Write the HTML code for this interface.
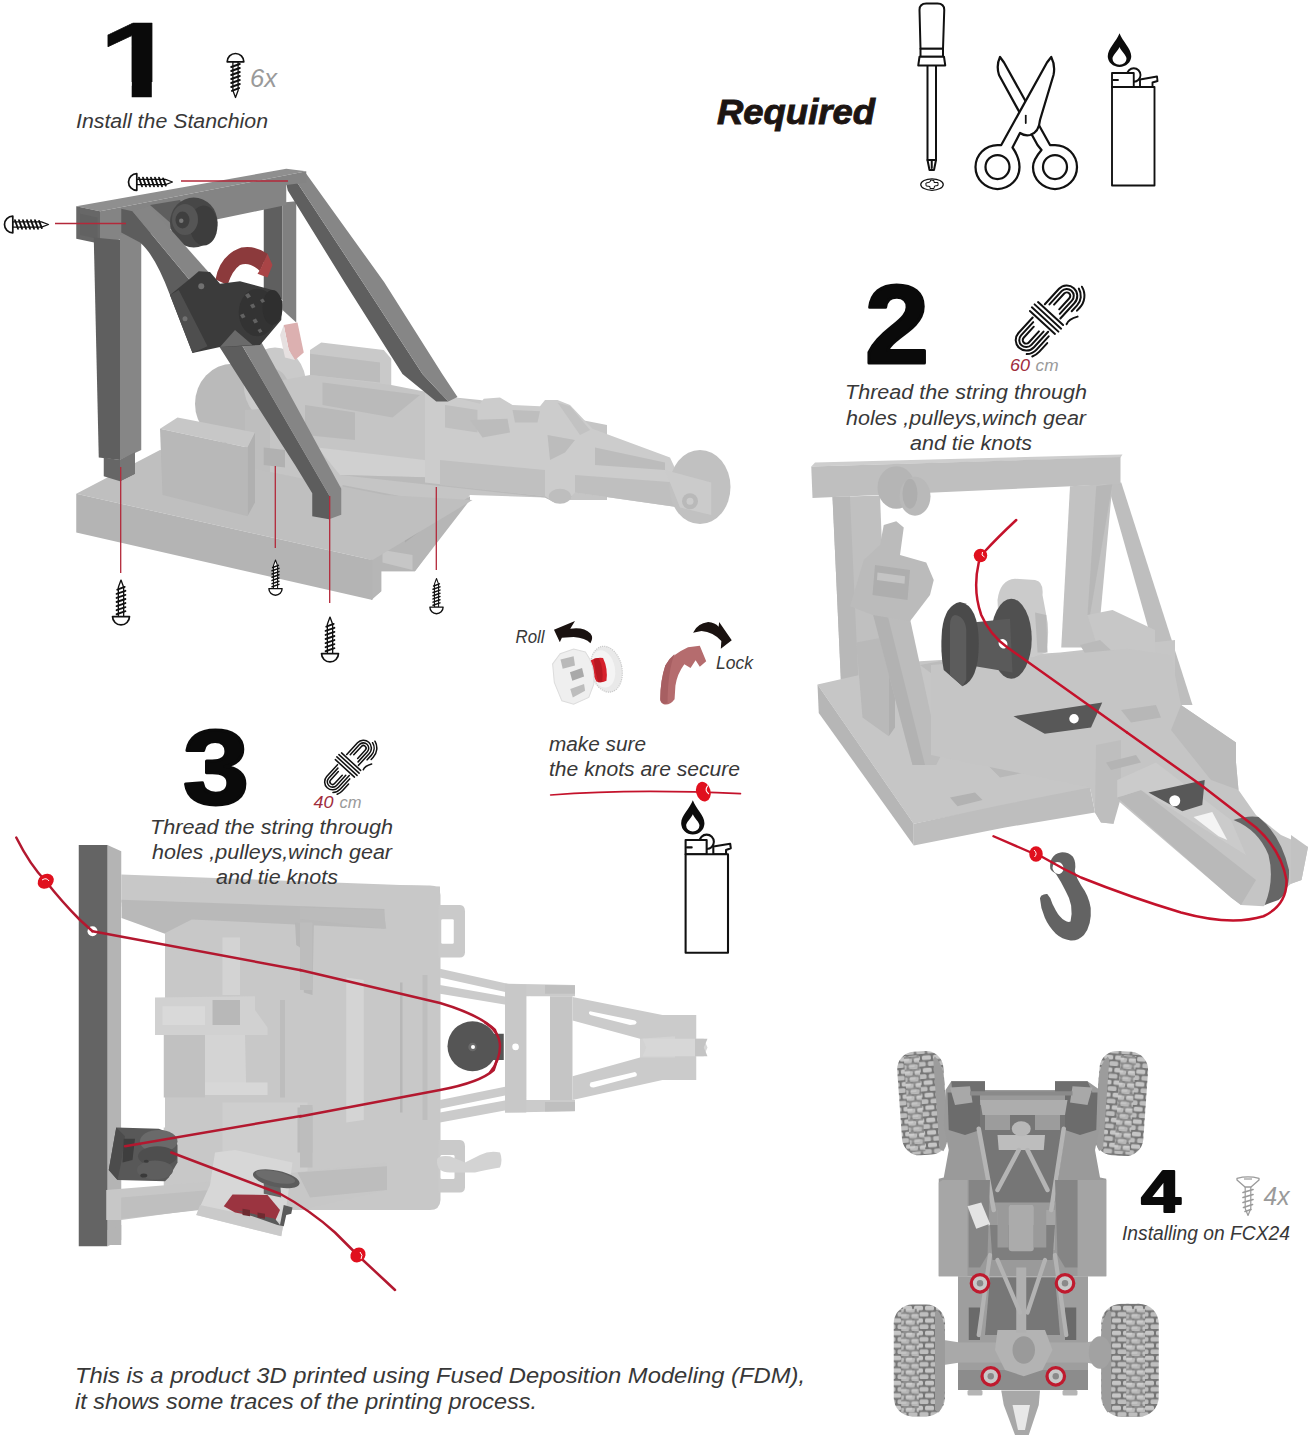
<!DOCTYPE html>
<html lang="en">
<head>
<meta charset="utf-8">
<title>Assembly instructions</title>
<style>
html,body{margin:0;padding:0;background:#fff;}
body{width:1308px;height:1443px;overflow:hidden;font-family:"Liberation Sans",sans-serif;}
svg{display:block;}
.it{font-family:"Liberation Sans",sans-serif;font-style:italic;fill:#383838;}
.num{font-family:"Liberation Sans",sans-serif;font-weight:bold;fill:#0a0a0a;stroke:#0a0a0a;stroke-linejoin:round;}
.gr{font-family:"Liberation Sans",sans-serif;font-style:italic;fill:#9a9a9a;}
.ic{fill:#fff;stroke:#111;stroke-linejoin:round;stroke-linecap:round;}
.rl{stroke:#b3283a;stroke-width:1.3;fill:none;}
.st{stroke:#c4122b;fill:none;stroke-linecap:round;stroke-linejoin:round;}
.st3{stroke:#b3182f;}
</style>
</head>
<body>
<svg width="1308" height="1443" viewBox="0 0 1308 1443">
<rect width="1308" height="1443" fill="#ffffff"/>
<defs>
  <!-- pan head screw, head on top, tip at bottom; 17 wide, 45 long -->
  <g id="screw">
    <path d="M-2.6 9 L-2.6 38 L0 45 L2.6 38 L2.6 9 Z" fill="#fff" stroke="#111" stroke-width="1.3" stroke-linejoin="round"/>
    <path d="M-4.3 14.5 L4.3 11.5 M-4.3 18.5 L4.3 15.5 M-4.3 22.5 L4.3 19.5 M-4.3 26.5 L4.3 23.5 M-4.3 30.5 L4.3 27.5 M-4.3 34.5 L4.3 31.5 M-3.6 38.3 L3.6 35.6" stroke="#111" stroke-width="1.9" stroke-linecap="round" fill="none"/>
    <path d="M-8.3 9.3 A8.3 8.3 0 0 1 8.3 9.3 Z" fill="#fff" stroke="#111" stroke-width="1.7" stroke-linejoin="round"/>
  </g>
  <!-- flat head screw (gray) -->
  <g id="fscrew">
    <path d="M-2.8 9 L-2.8 31 L0 38 L2.8 31 L2.8 9 Z" fill="#fff" stroke="#9a9a9a" stroke-width="1.2" stroke-linejoin="round"/>
    <path d="M-5 15 L5 12 M-5 20 L5 17 M-5 25 L5 22 M-4.5 30 L4.5 27 M-3 34 L3 32" stroke="#9a9a9a" stroke-width="1.7" stroke-linecap="round" fill="none"/>
    <path d="M-11 0.8 Q0 -2 11 0.8 L11 2.5 L3 9.5 L-3 9.5 L-11 2.5 Z" fill="#fff" stroke="#9a9a9a" stroke-width="1.3" stroke-linejoin="round"/>
    <path d="M-4 1.5 L4 1.5" stroke="#9a9a9a" stroke-width="1.2"/>
  </g>
  <!-- rope coil; long axis along x, total length ~88, width ~26 -->
  <g id="rope" fill="none" stroke="#111" stroke-width="2" stroke-linecap="round">
    <path d="M9 -10.5 L30 -10.5 A10.5 10.5 0 0 1 30 10.5 L9 10.5"/>
    <path d="M12 -7 L30 -7 A7 7 0 0 1 30 7 L12 7"/>
    <path d="M15 -3.5 L30 -3.5 A3.5 3.5 0 0 1 30 3.5 L15 3.5"/>
    <path d="M-9 -10.5 L-30 -10.5 A10.5 10.5 0 0 0 -30 10.5 L-9 10.5"/>
    <path d="M-12 -7 L-30 -7 A7 7 0 0 0 -30 7 L-12 7"/>
    <path d="M-15 -3.5 L-30 -3.5 A3.5 3.5 0 0 0 -30 3.5 L-15 3.5"/>
    <path d="M-6 -17 L-6 17 M-2 -18 L-2 18 M2 -18 L2 18 M6 -17 L6 17"/>
    <path d="M22 14 L30 14 A14 14 0 0 0 43.5 4 M26 17.5 L30 17.5 A17.5 17.5 0 0 0 47 5 M-12 14 L-30 14 A14 14 0 0 1 -40 9.8 M-18 17.5 L-30 17.5 A17.5 17.5 0 0 1 -38 15.5 M9 19 Q14 17 22 22"/>
  </g>
</defs>
<!-- ===== TOOL ICONS (top right) ===== -->
<g id="tools" transform="translate(890,0) scale(.25)">
  <!-- screwdriver -->
  <g class="ic" stroke-width="8">
    <rect x="150" y="255" width="34" height="385"/>
    <path d="M150 640 L158 680 L176 680 L184 640 Z"/>
    <path d="M167 640 L167 672" />
    <path d="M118 40 Q118 14 145 14 L190 14 Q217 14 217 40 L212 195 L122 195 Z"/>
    <rect x="122" y="195" width="90" height="32"/>
    <path d="M118 227 L216 227 L221 262 L113 262 Z"/>
    <ellipse cx="168" cy="738" rx="45" ry="23" stroke-width="5"/>
    <path d="M145 732 L160 728 L163 720 L176 722 L176 730 L192 730 L192 742 L178 744 L176 754 L160 754 L160 746 L146 744 Z" stroke-width="4"/>
  </g>
  <!-- scissors -->
  <g class="ic" stroke-width="9">
    <!-- back blade: tip top-left, ring bottom-right -->
    <path d="M440 228 Q424 262 436 300 L590 580 L606 600 Q572 640 572 668 A88 88 0 1 0 660 580 L640 580 L456 250 Z"/>
    <circle cx="660" cy="668" r="48"/>
    <!-- front blade: tip top-right, ring bottom-left -->
    <path d="M645 228 Q662 262 654 300 L600 480 Q596 530 560 540 Q540 545 520 532 L490 590 Q518 630 518 668 A88 88 0 1 1 430 580 L445 580 L628 250 Z"/>
    <circle cx="430" cy="668" r="48"/>
    <path d="M543 462 L543 492" stroke-width="7"/>
  </g>
  <!-- lighter -->
  <g class="ic" stroke-width="7.5">
    <circle cx="975" cy="300" r="27"/>
    <path d="M1000 318 L1068 306 L1070 324 L1050 330 L1050 348 L1000 348 Z"/>
    <path d="M888 292 L975 292 L975 348 L888 348 Z"/>
    <path d="M893 320 L912 320"/>
    <rect x="888" y="348" width="170" height="394"/>
  </g>
  <path d="M918 133 C930 165 965 195 965 225 A47 43 0 0 1 871 225 C871 195 906 165 918 133 Z" fill="#0c0c0c"/>
  <path d="M918 188 C924 205 946 220 946 235 A28 24 0 0 1 890 235 C890 220 912 205 918 188 Z" fill="#fff"/>
</g>

<!-- second lighter (center) -->
<g id="lighter2" transform="translate(480,580) scale(.2771)">
  <g class="ic" stroke-width="7.5">
    <circle cx="818" cy="945" r="26"/>
    <path d="M842 962 L903 952 L905 968 L888 974 L888 990 L842 990 Z"/>
    <path d="M742 938 L818 938 L818 990 L742 990 Z"/>
    <path d="M747 965 L764 965"/>
    <rect x="742" y="990" width="153" height="355"/>
  </g>
  <path d="M768 795 C779 825 810 850 810 878 A42 40 0 0 1 726 878 C726 850 757 825 768 795 Z" fill="#0c0c0c"/>
  <path d="M768 845 C774 860 792 873 792 886 A24 22 0 0 1 744 886 C744 873 762 860 768 845 Z" fill="#fff"/>
</g>
<!-- ===== STEP 1 illustration ===== -->
<g id="step1">
 <!-- light grey machine -->
 <g transform="translate(60,160) scale(.25)">
  <!-- gear + ring behind strut -->
  <ellipse cx="690" cy="975" rx="150" ry="160" fill="#bababa"/>
  <ellipse cx="860" cy="900" rx="125" ry="150" fill="#cacaca"/>
  <ellipse cx="850" cy="930" rx="70" ry="95" fill="#bebebe"/>
  <polygon points="740,1000 1010,980 1010,1320 740,1300" fill="#bebebe"/>
  <!-- pink lever -->
  <polygon points="895,660 950,650 975,770 940,800 915,760" fill="#dcb0b0"/>
  <polygon points="895,660 915,760 940,800 900,790 880,700" fill="#e6e0e0"/>
 </g>
 <g transform="translate(280,300) scale(.25)">
  <!-- back block -->
  <polygon points="120,200 165,170 415,200 445,235 445,420 120,380" fill="#c9c9c9"/>
  <polygon points="120,215 400,250 400,330 120,300" fill="#bcbcbc"/>
  <!-- big body between block and base -->
  <polygon points="-40,330 120,300 445,340 700,390 800,400 1308,500 1308,800 1160,800 1100,810 1060,790 760,780 540,1085 405,1085 405,1165 365,1200 365,1040 -40,900" fill="#c5c5c5"/>
  <polygon points="100,420 300,450 300,560 100,540" fill="#b9b9b9"/>
  <polygon points="170,330 560,380 450,470 170,420" fill="#bababa"/>
  <polygon points="150,590 1010,690 1010,720 240,700" fill="#d0d0d0"/>
  <polygon points="240,700 1060,790 1100,810 1160,800 1180,745 1010,720" fill="#bababa"/>
  <polygon points="250,740 510,790 510,850 250,800" fill="#b8b8b8"/>
  <!-- base right face -->
  <polygon points="365,1040 760,785 760,800 540,1085 405,1085 405,1165 365,1200" fill="#b6b6b6"/>
  <polygon points="410,1000 530,1020 530,1080 410,1050" fill="#c6c6c6"/>
  <polygon points="490,915 560,925 500,970" fill="#aaaaaa"/>
 </g>
 <g transform="translate(60,420) scale(.25)">
  <!-- base plate -->
  <polygon points="65,295 400,120 1300,300 1650,320 1250,560" fill="#bfbfbf"/>
  <polygon points="65,295 1250,560 1250,720 65,450" fill="#b4b4b4"/>
  <!-- box -->
  <polygon points="400,35 470,-10 780,50 750,110" fill="#c7c7c7"/>
  <polygon points="750,110 780,50 780,330 750,385" fill="#b0b0b0"/>
  <polygon points="400,35 750,110 750,385 410,300" fill="#b8b8b8"/>
  <!-- small block under strut -->
  <polygon points="815,110 900,120 900,190 815,180" fill="#b1b1b1"/>
 </g>
 <g transform="translate(440,360) scale(.25)">
  <!-- arm -->
  <polygon points="-60,120 160,175 175,155 240,150 290,180 400,185 420,160 470,160 520,180 610,275 650,290 920,390 1000,560 960,590 540,530 510,560 460,570 420,545 -60,490" fill="#cccccc"/>
  <polygon points="20,180 150,200 150,290 20,270" fill="#bfbfbf"/>
  <polygon points="120,240 270,235 280,290 170,310" fill="#bcbcbc"/>
  <polygon points="290,200 400,205 390,250 300,250" fill="#bebebe"/>
  <polygon points="430,300 540,320 500,370 440,400" fill="#bcbcbc"/>
  <polygon points="620,350 900,410 900,440 620,420" fill="#bcbcbc"/>
  <polygon points="0,400 420,440 420,545 0,500" fill="#c0c0c0"/>
  <polygon points="540,460 1080,500 1080,620 960,590 540,530" fill="#bfbfbf"/>
  <polygon points="470,170 520,185 600,280 560,300" fill="#c2c2c2"/>
  <ellipse cx="480" cy="545" rx="45" ry="30" fill="#bebebe"/>
  <!-- wheel -->
  <ellipse cx="1040" cy="508" rx="122" ry="148" fill="#c1c1c1"/>
  <polygon points="900,440 1085,490 1085,620 960,590" fill="#cbcbcb"/>
  <circle cx="1000" cy="565" r="32" fill="#b9b9b9"/>
  <circle cx="1000" cy="565" r="14" fill="#cbcbcb"/>
 </g>

 <!-- dark stanchion frame -->
 <g transform="translate(60,160) scale(.25)">
  <!-- right post (behind) -->
  <polygon points="815,185 890,170 890,560 815,520" fill="#5f5f5f"/>
  <polygon points="890,170 945,165 945,650 890,600" fill="#808080"/>
  <!-- right strut -->
  <polygon points="905,95 942,80 1211,489 1450,856 1553,966 1505,966 1370,856 1138,489 911,122" fill="#5f5f5f"/>
  <polygon points="942,80 985,55 1297,489 1529,856 1590,948 1553,966 1450,856 1211,489" fill="#868686"/>
  <!-- beam -->
  <polygon points="65,185 905,35 985,45 160,205" fill="#8f8f8f"/>
  <polygon points="65,185 160,205 160,335 65,315" fill="#676767"/>
  <polygon points="160,205 985,45 985,90 905,100 905,180 160,335" fill="#848484"/>
  <polygon points="80,215 150,230 150,315 80,300" fill="#626262"/>
  <!-- left post -->
  <polygon points="135,310 240,320 240,1200 155,1190" fill="#5f5f5f"/>
  <polygon points="240,300 325,290 325,1160 240,1200" fill="#868686"/>
  <polygon points="175,1190 240,1200 300,1170 300,1255 240,1285 175,1265" fill="#666"/>
  <polygon points="240,1200 300,1170 300,1255 240,1285" fill="#757575"/>
  <!-- pulley bracket + pulley -->
  <polygon points="360,180 480,160 560,330 440,250" fill="#5e5e5e"/>
  <ellipse cx="535" cy="250" rx="95" ry="100" fill="#474747"/>
  <ellipse cx="575" cy="262" rx="55" ry="80" fill="#3d3d3d"/>
  <ellipse cx="500" cy="238" rx="52" ry="62" fill="#555"/>
  <ellipse cx="490" cy="240" rx="28" ry="34" fill="#3f3f3f"/>
  <circle cx="485" cy="243" r="9" fill="#777"/>
  <!-- left strut: dark side + light top -->
  <path d="M245 195 L290 205 L560 530 L470 580 L440 540 Q380 380 320 330 L245 290 Z" fill="#5d5d5d"/>
  <polygon points="290,205 360,185 640,500 560,530" fill="#858585"/>
  <polygon points="582,660 681,660 795,856 1076,1340 1076,1437 1009,1425 1009,1333 942,1223 707,856" fill="#5d5d5d"/>
  <polygon points="681,660 768,660 875,856 1125,1315 1125,1419 1076,1437 1076,1340 795,856" fill="#858585"/>
  <!-- red hook -->
  <path d="M622 478 Q640 380 725 350 Q780 340 830 375 L800 445 Q760 405 720 420 Q690 440 670 500 Z" fill="#8c3a3c"/>
  <polygon points="830,375 850,420 830,470 790,455 800,440" fill="#a94446"/>
  <!-- winch body -->
  <polygon points="440,540 520,475 555,445 600,448 640,495 720,485 850,520 890,565 885,640 800,740 640,748 530,772" fill="#3b3b3b"/>
  <polygon points="440,540 475,520 590,745 530,772" fill="#4e4e4e"/>
  <polygon points="640,748 700,680 770,740" fill="#6a6a6a"/>
  <ellipse cx="790" cy="610" rx="75" ry="95" fill="#333"/>
  <ellipse cx="850" cy="590" rx="40" ry="70" fill="#2f2f2f"/>
  <path d="M740 540 l14 -8 l10 14 l-14 8z M760 580 l14 -6 l8 14 l-14 6z M720 620 l14 -6 l8 14 l-14 6z M770 640 l14 -6 l8 14 l-14 6z M800 560 l12 -6 l8 12 l-12 6z M790 680 l12 -6 l8 12 l-12 6z" fill="#626262"/>
  <circle cx="565" cy="505" r="12" fill="#707070"/>
  <circle cx="500" cy="635" r="10" fill="#707070"/>
 </g>
</g>
<!-- ===== STEP 2 illustration ===== -->
<g id="step2">
 <g transform="translate(800,440) scale(.25)">
  <!-- back right strut + right post -->
  <polygon points="1230,175 1285,170 1570,1060 1480,1060" fill="#bebebe"/>
  <polygon points="1080,185 1250,175 1190,830 1045,830" fill="#c2c2c2"/>
  <polygon points="1185,185 1250,175 1160,700 1150,700" fill="#b7b7b7"/>
  <!-- beam -->
  <polygon points="45,106 60,90 1290,58 1282,70" fill="#cecece"/>
  <polygon points="45,106 1282,68 1282,176 50,232" fill="#bfbfbf"/>
  <!-- left post -->
  <polygon points="130,228 320,222 350,990 165,992" fill="#c0c0c0"/>
  <polygon points="130,228 200,226 235,990 165,992" fill="#b8b8b8"/>
  <!-- base top -->
  <polygon points="70,978 480,885 1040,850 1500,800 1500,1500 1170,1395 805,1465 455,1535" fill="#c6c6c6"/>
  <polygon points="70,978 455,1535 455,1622 75,1092" fill="#b6b6b6"/>
  <polygon points="455,1535 805,1460 1160,1390 1180,1490 820,1550 455,1622" fill="#bebebe"/>
  <!-- rails on base -->
  <polygon points="480,900 560,885 1180,1330 1090,1350" fill="#bbbbbb"/>
  <polygon points="540,960 600,950 760,1060 700,1075" fill="#b3b3b3"/>
  <polygon points="750,1045 1040,1000 1080,1030 800,1080" fill="#b9b9b9"/>
  <polygon points="660,1210 760,1190 900,1330 800,1350" fill="#b8b8b8"/>
  <polygon points="600,1430 700,1410 730,1440 630,1465" fill="#b2b2b2"/>
  <!-- support blocks left -->
  <polygon points="225,810 330,790 355,850 355,1185 250,1110" fill="#b9b9b9"/>
  <polygon points="330,790 355,850 355,1185 380,1150 380,830" fill="#b0b0b0"/>
  <!-- left front strut -->
  <polygon points="290,690 440,715 560,1270 545,1300 450,1300" fill="#bcbcbc"/>
  <polygon points="290,690 350,700 500,1300 450,1300" fill="#b2b2b2"/>
  <!-- pulley (light) -->
  <ellipse cx="385" cy="190" rx="75" ry="85" fill="#b5b5b5"/>
  <ellipse cx="460" cy="225" rx="62" ry="78" fill="#b9b9b9"/>
  <ellipse cx="440" cy="215" rx="30" ry="60" fill="#aeaeae"/>
  <!-- winch body (light) -->
  <polygon points="335,340 385,325 415,350 400,460 505,490 535,560 520,620 440,725 290,700 200,665 255,480 320,420" fill="#bbbbbb"/>
  <polygon points="300,500 440,520 430,640 290,620" fill="#aeaeae"/>
  <polygon points="310,530 420,545 418,575 308,560" fill="#c4c4c4"/>
  <!-- right clamp behind spool -->
  <path d="M790 640 Q800 560 860 555 L940 560 Q975 565 970 620 L985 700 Q1000 760 985 850 L900 880 L800 860 Z" fill="#cbcbcb"/>
  <polygon points="940,690 985,700 990,850 950,850" fill="#b9b9b9"/>
  <!-- right side parts -->
  <polygon points="1150,700 1250,680 1420,760 1420,900 1200,860" fill="#c7c7c7"/>
  <polygon points="1120,820 1200,800 1308,900 1308,1000 1180,920" fill="#bababa"/>
 </g>
 <g transform="translate(981,680) scale(.25)">
  <!-- arm -->
  <polygon points="-200,-60 316,-100 584,-125 760,-100 800,100 1020,250 1020,330 1030,440 1100,540 1200,620 1308,668 1282,800 1240,815 1130,905 1040,900 1000,870 545,480 530,575 480,570 456,530 436,430 -200,300" fill="#c5c5c5"/>
  <polygon points="460,260 560,240 560,470 530,575 480,570 456,530" fill="#bebebe"/>
  <polygon points="545,470 640,440 1100,800 1040,900 1000,870" fill="#b9b9b9"/>
  <polygon points="545,400 700,330 1000,560 1060,700 640,440 545,470" fill="#cbcbcb"/>
  <polygon points="800,100 1020,250 1020,330 1030,440 920,400 760,200" fill="#bbbbbb"/>
  <polygon points="1240,620 1308,668 1282,800 1240,815" fill="#c2c2c2"/>
  <polygon points="850,548 925,528 985,640 950,625" fill="#f4f4f4"/>
  <polygon points="500,330 620,300 640,330 520,360" fill="#b4b4b4"/>
  <polygon points="560,120 700,100 720,150 600,170" fill="#b7b7b7"/>
  <!-- wheel rim dark -->
  <path d="M1010 560 Q1070 540 1110 548 Q1200 620 1232 760 Q1235 850 1190 880 L1135 900 Q1175 800 1150 700 Q1110 600 1010 560 Z" fill="#666666"/>
  <!-- dark plates -->
  <polygon points="130,145 485,90 440,190 255,215" fill="#585858"/>
  <circle cx="372" cy="155" r="19" fill="#fff"/>
  <polygon points="670,450 895,400 885,500 805,525" fill="#585858"/>
  <circle cx="775" cy="483" r="22" fill="#fff"/>
 </g>
  <g transform="translate(980,820) scale(.12232)">
   <path d="M660 265 Q720 260 760 300 Q790 350 775 420 Q790 480 830 540 Q890 620 905 720 Q915 860 850 940 Q800 990 740 985 Q670 975 620 930 Q560 870 530 800 Q495 720 490 640 L500 620 Q525 602 550 605 L575 640 Q590 690 620 740 Q650 795 690 820 Q720 840 740 830 Q755 770 745 700 Q735 640 700 580 Q660 500 620 440 Q585 420 575 400 Q568 350 585 318 Q610 272 660 265 Z" fill="#636363"/>
   <ellipse cx="638" cy="392" rx="44" ry="50" fill="#fff" transform="rotate(-20 638 392)"/>
  </g>
 <g transform="translate(800,440) scale(.25)">
  <!-- dark spool -->
  <ellipse cx="845" cy="795" rx="82" ry="160" fill="#505050"/>
  <polygon points="690,730 840,715 850,930 700,905" fill="#5a5a5a"/>
  <path d="M640 648 Q715 660 715 815 Q715 960 650 985 L575 920 Q560 850 568 760 Q580 660 640 648 Z" fill="#4a4a4a"/>
  <path d="M620 700 Q660 705 665 760 L665 960 L650 985 L600 940 L600 740 Q600 705 620 700Z" fill="#5c5c5c"/>
  <ellipse cx="812" cy="815" rx="17" ry="20" fill="#fff" transform="rotate(-30 812 815)"/>
  <!-- string -->
  <path class="st" stroke-width="10" d="M865 320 Q790 390 735 450"/>
  <path class="st" stroke-width="10" d="M715 490 Q690 600 725 700 Q760 780 830 830 L1308 1170"/>
  <circle cx="722" cy="462" r="27" fill="#e0101e"/>
  <path d="M730 448 Q722 462 738 468" stroke="#fff" stroke-width="4" fill="none"/>
 </g>
 <g transform="translate(981,680) scale(.25)">
  <path class="st" stroke-width="10" d="M584 210 L880 420 Q1010 520 1100 590 Q1200 680 1222 800 Q1225 900 1130 945 Q1000 985 800 930 Q600 870 400 790 L330 755 L240 705"/>
  <path class="st" stroke-width="9.5" d="M50 625 L200 690"/>
  <ellipse cx="220" cy="696" rx="27" ry="31" fill="#e0101e"/>
  <path d="M212 680 Q228 694 214 708" stroke="#fff" stroke-width="4" fill="none"/>
 </g>
</g>
<!-- ===== STEP 3 illustration ===== -->
<g id="step3">
 <g transform="translate(0,820) scale(.25)">
  <!-- light body -->
  <polygon points="430,100 485,125 485,1700 430,1700" fill="#b4b4b4"/>
  <!-- top brace -->
  <polygon points="485,218 1760,266 1760,560 1308,440 780,360 485,330" fill="#c8c8c8"/>
    <!-- main plate -->
  <path d="M655 440 L655 250 L1720 262 Q1760 262 1762 300 L1762 1520 Q1760 1560 1720 1560 L900 1560 L655 1500 Z" fill="#c8c8c8"/>
  <polygon points="485,345 660,455 660,1230 485,1230" fill="#ffffff"/>
  <polygon points="486,319 1538,356 1538,435 767,398 657,454 486,392" fill="#b9b9b9"/>
  <!-- servo / gear cluster -->
  <polygon points="620,710 1020,705 1020,760 1070,830 1070,860 620,860" fill="#d1d1d1"/>
  <polygon points="650,745 820,745 820,820 650,820" fill="#d9d9d9"/>
  <polygon points="850,720 960,720 960,820 850,820" fill="#b8b8b8"/>
  <polygon points="820,860 980,860 985,1090 820,1090" fill="#d4d4d4"/>
  <polygon points="740,1050 1070,1050 1070,1100 740,1100" fill="#d7d7d7"/>
  <polygon points="655,860 820,860 820,1110 655,1110" fill="#c1c1c1"/>
  <polygon points="890,470 960,470 960,700 890,700" fill="#d3d3d3"/>
  <polygon points="1180,410 1255,420 1250,700 1215,690 1215,520 1185,500" fill="#b7b7b7"/>
  <polygon points="1120,720 1140,720 1140,1110 1120,1110" fill="#bdbdbd"/>
  <polygon points="890,1130 1230,1130 1230,1440 890,1440" fill="#cecece"/>
  <polygon points="1190,1150 1250,1150 1250,1330 1190,1330" fill="#bbbbbb"/>
 </g>
 <g transform="translate(300,860) scale(.25)">
  <!-- tabs -->
  <path d="M555 180 L640 180 Q660 182 660 205 L660 370 Q658 390 640 390 L555 390 Z" fill="#cacaca"/>
  <rect x="565" y="237" width="50" height="98" rx="5" fill="#fff"/>
  <path d="M555 1120 L640 1120 Q660 1122 660 1145 L660 1310 Q658 1330 640 1330 L555 1330 Z" fill="#cacaca"/>
  <rect x="562" y="1180" width="56" height="96" rx="5" fill="#fff"/>
  <path d="M548 1200 Q550 1180 600 1185 L660 1210 L720 1180 Q760 1160 800 1170 Q812 1200 800 1230 Q740 1240 700 1250 L600 1250 Q545 1250 548 1200 Z" fill="#d3d3d3"/>
  <!-- inner details of plate -->
  <polygon points="0,190 335,200 345,275 0,235" fill="#bbbbbb"/>
  <polygon points="0,1270 345,1230 335,1320 0,1340" fill="#bbbbbb"/>
  <polygon points="185,470 255,480 255,1040 185,1050" fill="#d4d4d4"/>
  <polygon points="400,490 410,490 410,1010 400,1010" fill="#b7b7b7"/>
  <polygon points="490,460 510,460 510,1040 490,1040" fill="#bebebe"/>
  <polygon points="0,250 50,250 50,520 0,520" fill="#bdbdbd"/>
  <polygon points="0,980 50,980 50,1230 0,1230" fill="#bdbdbd"/>
  <!-- boom rails -->
  <polygon points="560,435 830,495 830,530 560,470" fill="#cbcbcb"/>
  <polygon points="560,500 830,548 830,580 560,535" fill="#cbcbcb"/>
  <polygon points="560,960 830,905 830,940 560,995" fill="#cbcbcb"/>
  <polygon points="560,1010 830,960 830,1000 560,1050" fill="#cbcbcb"/>
 </g>
 <g transform="translate(500,940) scale(.25)">
  <!-- cross piece -->
  <polygon points="20,175 300,180 300,225 200,225 200,640 300,640 300,685 20,690" fill="#cbcbcb"/>
  <polygon points="105,225 200,225 200,640 105,640" fill="#ffffff"/>
  <polygon points="20,175 105,180 105,690 20,690" fill="#c8c8c8"/>
  <polygon points="200,225 290,225 290,640 200,640" fill="#c5c5c5"/>
  <polygon points="180,180 300,182 300,215 180,215" fill="#bfbfbf"/>
  <polygon points="180,648 300,648 300,684 180,686" fill="#bfbfbf"/>
  <ellipse cx="125" cy="238" rx="18" ry="10" fill="#fff" transform="rotate(15 125 238)"/>
  <ellipse cx="125" cy="628" rx="18" ry="10" fill="#fff" transform="rotate(-15 125 628)"/>
  <circle cx="63" cy="430" r="11" fill="#fff"/>
  <!-- arms -->
  <polygon points="290,228 650,300 785,300 785,560 650,560 290,640 290,545 560,470 560,395 290,322" fill="#cbcbcb"/>
  <polygon points="560,395 700,385 700,470 560,470" fill="#d3d3d3"/>
  <polygon points="570,395 585,430 570,465 815,465 830,430 815,395" fill="#d7d7d7"/>
  <polygon points="780,395 830,395 815,430 830,465 780,465" fill="#c4c4c4"/>
  <path d="M360 285 L540 322 Q552 330 540 338 L520 340 L362 300 Q350 292 360 285Z" fill="#fff"/>
  <path d="M362 570 L540 528 Q552 535 545 545 L375 590 Q352 590 362 570Z" fill="#fff"/>
 </g>
 <!-- dark bar -->
 <g transform="translate(0,820) scale(.25)">
  <polygon points="315,100 430,100 430,1705 315,1705" fill="#646464"/>
  <polygon points="430,1640 485,1620 485,1680 430,1705" fill="#b4b4b4"/>
  <circle cx="370" cy="445" r="20" fill="#fff"/>
 </g>
 <g transform="translate(60,1080) scale(.25)">
  <!-- lower brace (light) -->
  <polygon points="185,440 620,405 1308,330 1308,440 960,520 540,520 245,560 185,560" fill="#c7c7c7"/>
  <polygon points="245,470 600,440 560,520 245,555" fill="#bfbfbf"/>
  <polygon points="950,370 1308,345 1308,440 1000,470" fill="#bdbdbd"/>
  <!-- tilted box -->
  <polygon points="620,290 700,280 930,330 905,510 885,625 545,540 600,420" fill="#d7d7d7"/>
  <polygon points="545,540 885,625 895,570 560,500" fill="#cacaca"/>
  <!-- dark pulley block -->
  <polygon points="225,190 395,195 440,212 470,260 470,330 435,390 420,405 230,400 195,360" fill="#585858"/>
  <polygon points="225,190 260,225 245,330 230,400 195,360" fill="#4c4c4c"/>
  <ellipse cx="395" cy="245" rx="75" ry="45" fill="#6a6a6a"/>
  <ellipse cx="390" cy="305" rx="78" ry="40" fill="#4e4e4e"/>
  <ellipse cx="380" cy="360" rx="72" ry="38" fill="#5e5e5e"/>
  <polygon points="255,235 300,235 290,320 250,330" fill="#3e3e3e"/>
  <ellipse cx="345" cy="325" rx="10" ry="6" fill="#3a3a3a"/>
  <ellipse cx="335" cy="382" rx="14" ry="8" fill="#3a3a3a"/>
  <!-- red spool + cap -->
  <polygon points="655,505 690,458 830,460 880,520 862,560 700,530" fill="#9b3440"/>
  <polygon points="700,520 860,555 880,580 895,500 930,510 925,535 905,540 895,585 870,580" fill="#5a5a5a"/>
  <polygon points="730,515 760,520 760,545 730,540" fill="#6e2a30"/>
  <polygon points="790,530 820,535 820,555 790,550" fill="#6e2a30"/>
  <polygon points="815,400 880,400 885,470 815,455" fill="#666"/>
  <ellipse cx="865" cy="395" rx="95" ry="33" fill="#5c5c5c" transform="rotate(12 865 395)"/>
  <ellipse cx="862" cy="388" rx="80" ry="22" fill="#6c6c6c" transform="rotate(12 862 388)"/>
 </g>
 <!-- strings -->
 <g transform="translate(0,820) scale(.25)">
  <path class="st st3" stroke-width="10" d="M65 70 Q120 180 183 245 Q250 330 320 400 L370 445"/>
  <path class="st st3" stroke-width="10" d="M370 445 L1204 601"/>
  <ellipse cx="183" cy="245" rx="34" ry="28" fill="#e0101e" transform="rotate(-35 183 245)"/>
  <path d="M168 240 Q186 228 196 244" stroke="#fff" stroke-width="4" fill="none"/>
 </g>
 <g transform="translate(300,860) scale(.25)">
  <path class="st st3" stroke-width="10" d="M0 440 L560 572 Q720 620 780 680 Q810 745 775 840 Q720 890 560 920 L0 1026"/>
 </g>
 <g transform="translate(300,860) scale(.25)">
  <circle cx="690" cy="745" r="100" fill="#555"/>
  <polygon points="740,695 815,695 815,800 740,800" fill="#555"/>
  <circle cx="690" cy="748" r="17" fill="#6a6a6a"/>
  <circle cx="692" cy="748" r="8" fill="#fff"/>
  <path class="st st3" stroke-width="10" d="M740 650 Q800 690 800 745 Q800 800 760 850"/>
  <circle cx="862" cy="747" r="13" fill="#fff"/>
 </g>
 <g transform="translate(60,1080) scale(.25)">
  <path class="st st3" stroke-width="10" d="M260 265 L964 144 M445 290 L880 455 Q1000 520 1100 610 L1190 700 L1308 810 L1340 840"/>
  <ellipse cx="1192" cy="700" rx="32" ry="28" fill="#e0101e" transform="rotate(-40 1192 700)"/>
  <path d="M1200 688 Q1214 700 1204 716" stroke="#fff" stroke-width="4" fill="none"/>
 </g>
</g>
<!-- ===== STEP 4 truck ===== -->
<defs>
  <pattern id="tread" width="44" height="50" patternUnits="userSpaceOnUse">
    <rect width="44" height="50" fill="#767676"/>
    <rect x="4" y="3" width="36" height="18" rx="6" fill="#c6c6c6"/>
    <rect x="-18" y="28" width="36" height="18" rx="6" fill="#bebebe"/>
    <rect x="26" y="28" width="36" height="18" rx="6" fill="#bebebe"/>
  </pattern>
  <pattern id="tread2" width="44" height="50" patternUnits="userSpaceOnUse" patternTransform="translate(11,8)">
    <rect width="44" height="50" fill="#808080"/>
    <rect x="4" y="3" width="36" height="18" rx="6" fill="#cecece"/>
    <rect x="-18" y="28" width="36" height="18" rx="6" fill="#c6c6c6"/>
    <rect x="26" y="28" width="36" height="18" rx="6" fill="#c6c6c6"/>
  </pattern>
</defs>
<g id="step4">
 <g transform="translate(880,1030) scale(.25)">
  <!-- front tyres -->
  <rect x="78" y="85" width="185" height="415" rx="70" fill="url(#tread)" transform="rotate(-4 170 290)"/>
  <rect x="108" y="100" width="60" height="385" fill="url(#tread2)" opacity=".8" transform="rotate(-4 170 290)"/>
  <rect x="868" y="85" width="195" height="418" rx="72" fill="url(#tread)" transform="rotate(4 965 295)"/>
  <rect x="950" y="100" width="62" height="385" fill="url(#tread2)" opacity=".8" transform="rotate(4 965 295)"/>
  <path d="M232 110 Q262 140 262 200 L262 400 Q262 460 240 490 L225 480 L225 120 Z" fill="#9c9c9c" transform="rotate(-4 170 290)"/>
  <path d="M898 110 Q868 140 868 200 L868 400 Q868 460 890 490 L905 480 L905 120 Z" fill="#9c9c9c" transform="rotate(4 965 295)"/>
  <!-- chassis upper -->
  <polygon points="285,205 420,205 420,240 700,240 700,205 830,205 880,240 880,380 860,480 880,590 905,595 905,985 235,985 235,595 255,590 275,480 255,380 262,240" fill="#9a9a9a"/>
  <polygon points="250,600 350,600 350,985 235,985 235,610" fill="#a6a6a6"/>
  <polygon points="790,600 905,600 905,985 790,985" fill="#a4a4a4"/>
  <polygon points="285,205 420,205 420,250 290,250" fill="#6f6f6f"/>
  <polygon points="700,205 830,205 850,250 700,250" fill="#6f6f6f"/>
  <polygon points="370,300 760,300 740,400 700,690 450,690 400,400" fill="#767676"/>
  <polygon points="270,250 400,250 400,400 340,420 275,400" fill="#6c6c6c"/>
  <polygon points="740,250 870,250 865,400 800,420 740,400" fill="#6c6c6c"/>
  <polygon points="280,230 360,225 370,290 300,300" fill="#a8a8a8"/>
  <polygon points="770,225 850,230 830,300 760,290" fill="#a8a8a8"/>
  <polygon points="420,330 520,330 520,400 420,400" fill="#9c9c9c"/>
  <polygon points="620,330 720,330 720,400 620,400" fill="#9c9c9c"/>
  <polygon points="400,280 750,280 740,340 410,340" fill="#adadad"/>
  <polygon points="360,245 770,245 770,262 360,262" fill="#8a8a8a"/>
  <polygon points="470,420 660,420 655,480 475,480" fill="#bdbdbd"/>
  <polygon points="520,700 610,700 610,880 520,880" fill="#b2b2b2"/>
  <polygon points="470,720 520,720 520,880 470,880" fill="#a6a6a6"/>
  <polygon points="610,720 700,720 700,880 610,880" fill="#a6a6a6"/>
  <ellipse cx="565" cy="395" rx="38" ry="30" fill="#b8b8b8"/>
  <polygon points="355,700 410,690 440,780 380,800" fill="#e2e2e2"/>
  <!-- links -->
  <path d="M395 395 L455 720 M735 395 L685 720 M555 480 L470 640 M590 480 L670 640" stroke="#b5b5b5" stroke-width="18" stroke-linecap="round" fill="none"/>
 </g>
 <g transform="translate(880,1230) scale(.25)">
  <!-- mid body -->
  <polygon points="355,-200 440,-200 430,100 400,150 355,150" fill="#858585"/>
  <polygon points="700,-200 790,-200 790,150 740,150 710,100" fill="#858585"/>
  <polygon points="440,-20 700,-20 690,120 450,120" fill="#7e7e7e"/>
  <rect x="515" y="-100" width="100" height="185" rx="12" fill="#ababab"/>
  <rect x="470" y="-80" width="45" height="150" fill="#9a9a9a"/>
  <rect x="615" y="-80" width="50" height="150" fill="#9a9a9a"/>
  <polygon points="350,-95 405,-110 440,-25 385,-5" fill="#e4e4e4"/>
  <!-- rear body -->
  <rect x="312" y="185" width="520" height="455" fill="#9e9e9e"/>
  <polygon points="440,190 700,190 720,420 420,420" fill="#777"/>
  <polygon points="355,310 400,310 400,440 355,440" fill="#6a6a6a"/>
  <polygon points="740,310 785,310 785,440 740,440" fill="#6a6a6a"/>
  <polygon points="312,560 832,560 832,640 312,640" fill="#8c8c8c"/>
  <!-- axle -->
  <polygon points="255,440 320,450 820,450 885,440 885,540 820,530 320,530 255,540" fill="#a9a9a9"/>
  <path d="M470 400 L660 400 L690 480 L650 560 L575 585 L500 560 L460 480 Z" fill="#b3b3b3"/>
  <ellipse cx="575" cy="480" rx="45" ry="55" fill="#9a9a9a"/>
  <rect x="545" y="150" width="40" height="260" fill="#b0b0b0"/>
  <path d="M440 100 L395 420 M700 100 L745 420 M470 120 L560 330 M660 120 L590 330" stroke="#b3b3b3" stroke-width="17" stroke-linecap="round" fill="none"/>
  <!-- rear tyres -->
  <rect x="55" y="298" width="205" height="448" rx="75" fill="url(#tread)"/>
  <rect x="85" y="315" width="70" height="415" fill="url(#tread2)" opacity=".8"/>
  <rect x="885" y="295" width="230" height="452" rx="80" fill="url(#tread)"/>
  <rect x="985" y="315" width="75" height="415" fill="url(#tread2)" opacity=".8"/>
  <path d="M228 320 Q260 350 260 420 L260 630 Q260 700 235 730 L220 720 L220 330 Z" fill="#9c9c9c"/>
  <path d="M917 320 Q885 350 885 420 L885 630 Q885 700 910 730 L925 720 L925 330 Z" fill="#9c9c9c"/>
  <ellipse cx="880" cy="490" rx="45" ry="65" fill="#a2a2a2"/>
  <!-- feet + hitch -->
  <rect x="350" y="640" width="60" height="22" rx="6" fill="#b5b5b5"/>
  <rect x="730" y="640" width="60" height="22" rx="6" fill="#b5b5b5"/>
  <path d="M485 642 L640 642 L635 700 L595 820 L540 820 L495 700 Z" fill="#a8a8a8"/>
  <path d="M530 700 L600 700 L580 800 L552 800 Z" fill="#e8e8e8"/>
  <!-- red circles -->
  <g fill="#c8c8c8" stroke="#bf1a2e" stroke-width="13">
   <circle cx="400" cy="213" r="35"/><circle cx="740" cy="213" r="35"/>
   <circle cx="443" cy="585" r="35"/><circle cx="703" cy="585" r="35"/>
  </g>
  <g fill="#8a8a8a"><circle cx="400" cy="213" r="13"/><circle cx="740" cy="213" r="13"/><circle cx="443" cy="585" r="13"/><circle cx="703" cy="585" r="13"/></g>
 </g>
</g>
<!-- ===== Roll / Lock / knot ===== -->
<g id="rolllock" transform="translate(540,610) scale(.16821)">
  <!-- roll arrow -->
  <path d="M83 118 L208 65 L180 112 Q260 100 300 140 Q320 165 300 197 Q270 165 200 160 L130 165 L118 192 Z" fill="#1a1210"/>
  <!-- lock arrow -->
  <path d="M910 135 Q935 80 1000 72 Q1040 75 1062 100 L1065 72 L1140 180 L1075 230 L1078 185 Q1030 130 960 125 Z" fill="#1a1210"/>
  <!-- spool -->
  <ellipse cx="395" cy="352" rx="92" ry="138" fill="#e9e9e9" stroke="#c9c9c9" stroke-width="7" stroke-dasharray="7 6" transform="rotate(-12 395 352)"/>
  <ellipse cx="375" cy="350" rx="70" ry="112" fill="#f4f4f4" transform="rotate(-12 375 350)"/>
  <path d="M300 300 Q330 280 375 285 Q405 350 395 420 Q360 435 335 425 Q300 360 300 300 Z" fill="#d6202b"/>
  <path d="M320 292 Q335 286 350 286 Q380 350 370 428 Q355 431 345 430 Q325 360 320 292Z" fill="#b81822"/>
  <path d="M75 320 L120 260 L200 232 L270 250 Q330 330 320 440 L290 520 L200 560 L130 540 L85 430 Z" fill="#efefef" stroke="#dcdcdc" stroke-width="6"/>
  <polygon points="122,295 200,275 208,330 135,350" fill="#b9b9b9"/>
  <polygon points="178,370 250,345 262,395 192,420" fill="#a9a9a9"/>
  <polygon points="180,470 262,440 268,480 195,520" fill="#bdbdbd"/>
  <!-- lock lever -->
  <path d="M715 530 Q715 420 745 330 Q775 270 880 222 L950 212 L988 305 L950 338 L925 298 L895 345 L858 322 Q815 380 805 450 L800 530 Q770 570 735 560 Q715 550 715 530 Z" fill="#b56c6e"/>
  <path d="M715 530 Q715 420 745 330 Q765 290 800 262 Q760 360 758 555 Q735 562 722 548 Q715 540 715 530 Z" fill="#a75f62"/>
</g>
<g id="knotline" transform="translate(480,580) scale(.2771)">
  <path d="M255 776 Q550 752 940 771" stroke="#c4122b" stroke-width="6" fill="none" stroke-linecap="round"/>
  <ellipse cx="806" cy="764" rx="26" ry="36" fill="#e0101e" transform="rotate(-15 806 764)"/>
  <path d="M822 742 Q808 760 826 772" stroke="#fff" stroke-width="4" fill="none"/>
</g>
<!-- ===== screws, ropes, arrows ===== -->
<g id="smallicons">
  <use href="#screw" transform="translate(235.5,52.5)"/>
  <use href="#screw" transform="translate(127.5,182) rotate(-90)"/>
  <use href="#screw" transform="translate(3.5,224.5) rotate(-90)"/>
  <use href="#screw" transform="translate(121,626) rotate(180) scale(1.02)"/>
  <use href="#screw" transform="translate(275.5,596) rotate(180) scale(.8)"/>
  <use href="#screw" transform="translate(330,663) rotate(180) scale(1.02)"/>
  <use href="#screw" transform="translate(436.5,614.5) rotate(180) scale(.8)"/>
  <use href="#fscrew" transform="translate(1248,1177.5)"/>
  <use href="#rope" transform="translate(1046.5,318) rotate(-47.5)"/>
  <use href="#rope" transform="translate(348,765) rotate(-47.5) scale(.76)"/>
  <!-- red guide lines step 1 -->
  <path class="rl" d="M181 181 L288 181 M55 223.5 L126 223.5 M120.7 467 L120.7 573 M275.3 466 L275.3 548 M329.7 496 L329.7 603 M436.3 487 L436.3 570"/>
</g>
<!-- ===== TEXT ===== -->
<g id="labels">
<text class="num" x="98" y="97" font-size="108" stroke-width="0.6" textLength="81" lengthAdjust="spacingAndGlyphs">1</text>
<rect x="88" y="82" width="43.7" height="20" fill="#fff"/><rect x="151.8" y="82" width="40" height="20" fill="#fff"/>
<text class="gr" x="250" y="87" font-size="25" textLength="27" lengthAdjust="spacingAndGlyphs">6x</text>
<text class="it" x="76" y="127.5" font-size="20.5" textLength="192" lengthAdjust="spacingAndGlyphs">Install the Stanchion</text>

<text x="717" y="124" font-family="Liberation Sans, sans-serif" font-weight="bold" font-style="italic" font-size="35" fill="#1c1512" stroke="#1c1512" stroke-width="0.9" textLength="158" lengthAdjust="spacingAndGlyphs">Required</text>

<text class="num" x="865" y="363" font-size="111" stroke-width="3" textLength="64" lengthAdjust="spacingAndGlyphs">2</text>
<text x="1010" y="371" font-family="Liberation Sans, sans-serif" font-style="italic" font-size="16.5" fill="#a02c3c" textLength="20" lengthAdjust="spacingAndGlyphs">60</text>
<text class="gr" x="1035.5" y="371" font-size="16.5" textLength="23" lengthAdjust="spacingAndGlyphs">cm</text>
<text class="it" x="845" y="399" font-size="20" textLength="242" lengthAdjust="spacingAndGlyphs">Thread the string through</text>
<text class="it" x="846" y="424.5" font-size="20" textLength="240" lengthAdjust="spacingAndGlyphs">holes ,pulleys,winch gear</text>
<text class="it" x="910" y="449.5" font-size="20" textLength="122" lengthAdjust="spacingAndGlyphs">and tie knots</text>

<text class="num" x="183" y="804" font-size="106" stroke-width="3" textLength="66" lengthAdjust="spacingAndGlyphs">3</text>
<text x="313.5" y="808" font-family="Liberation Sans, sans-serif" font-style="italic" font-size="16.5" fill="#a02c3c" textLength="20" lengthAdjust="spacingAndGlyphs">40</text>
<text class="gr" x="339.5" y="808" font-size="16.5" textLength="22" lengthAdjust="spacingAndGlyphs">cm</text>
<text class="it" x="150" y="834" font-size="20" textLength="243" lengthAdjust="spacingAndGlyphs">Thread the string through</text>
<text class="it" x="152" y="859" font-size="20" textLength="240" lengthAdjust="spacingAndGlyphs">holes ,pulleys,winch gear</text>
<text class="it" x="216" y="884" font-size="20" textLength="122" lengthAdjust="spacingAndGlyphs">and tie knots</text>

<text class="it" x="515.5" y="643" font-size="17.5" textLength="29" lengthAdjust="spacingAndGlyphs">Roll</text>
<text class="it" x="716" y="668.5" font-size="17.5" textLength="37" lengthAdjust="spacingAndGlyphs">Lock</text>
<text class="it" x="549" y="750.5" font-size="20" textLength="97" lengthAdjust="spacingAndGlyphs">make sure</text>
<text class="it" x="549" y="776" font-size="20" textLength="191" lengthAdjust="spacingAndGlyphs">the knots are secure</text>

<text class="num" x="1141" y="1212" font-size="60" stroke-width="2" textLength="40" lengthAdjust="spacingAndGlyphs">4</text>
<text class="gr" x="1263.5" y="1205" font-size="25" textLength="26" lengthAdjust="spacingAndGlyphs">4x</text>
<text class="it" x="1122" y="1240" font-size="19.5" textLength="168" lengthAdjust="spacingAndGlyphs">Installing on FCX24</text>

<text class="it" x="75" y="1383" font-size="21.5" textLength="730" lengthAdjust="spacingAndGlyphs">This is a product 3D printed using Fused Deposition Modeling (FDM),</text>
<text class="it" x="75" y="1408.5" font-size="21.5" textLength="462" lengthAdjust="spacingAndGlyphs">it shows some traces of the printing process.</text>
</g>
</svg>
</body>
</html>
